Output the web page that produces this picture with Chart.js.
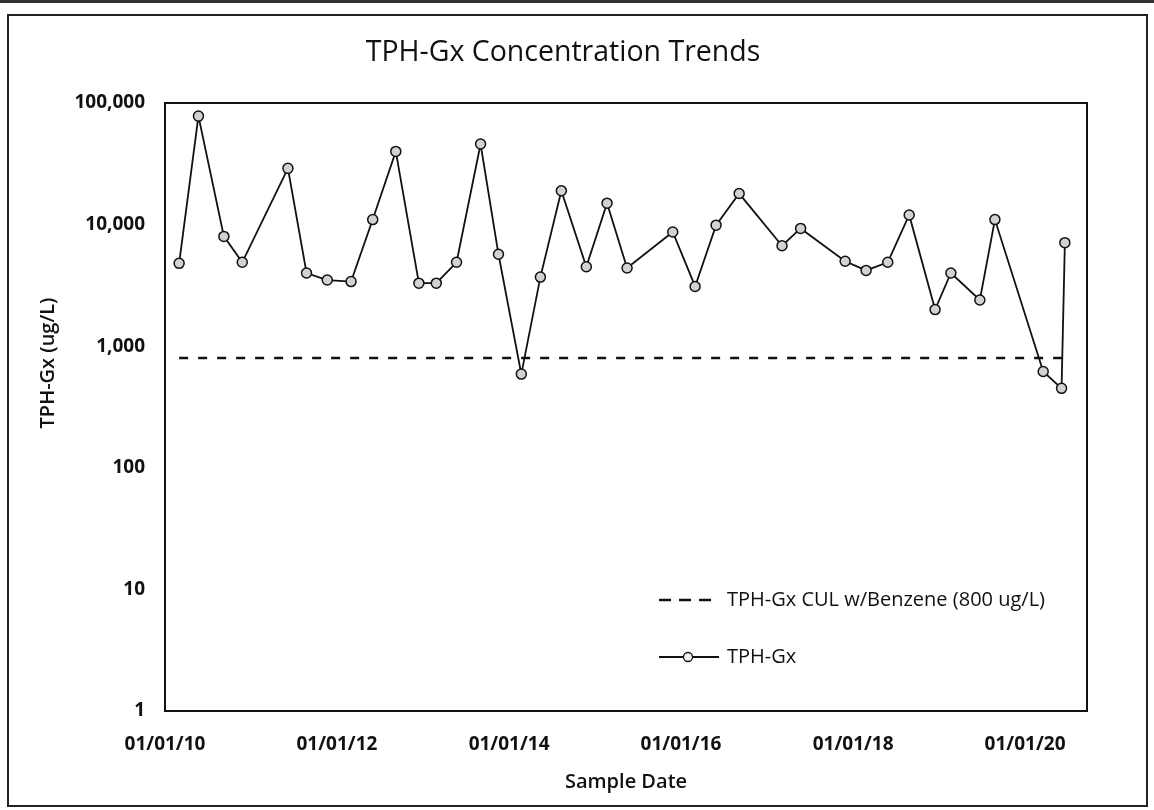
<!DOCTYPE html>
<html><head><meta charset="utf-8">
<script src="https://cdn.jsdelivr.net/npm/chart.js@4.4.1/dist/chart.umd.min.js"></script>
<style>
html,body{margin:0;padding:0;background:#fff;}
#wrap{position:relative;width:1154px;height:810px;overflow:hidden;background:#fff;}
canvas{position:absolute;left:0;top:0;}
#frame{position:absolute;left:7px;top:14px;width:1137px;height:789px;border:2px solid #222;pointer-events:none;}
#topline{position:absolute;left:0;top:0;width:1154px;height:3px;background:#333;}
</style></head>
<body><div id="wrap"><canvas id="c" width="1154" height="810"></canvas><div id="frame"></div><div id="topline"></div></div>
<script>
const chartTitle = 'TPH-Gx Concentration Trends';
const xAxisTitle = 'Sample Date';
const yAxisTitle = 'TPH-Gx (ug/L)';
const seriesLabel = 'TPH-Gx';
const culLabel = 'TPH-Gx CUL w/Benzene (800 ug/L)';
const culValue = 800;
const sampleDates = ['2010-03-02','2010-05-23','2010-09-08','2010-11-25','2011-06-07','2011-08-25','2011-11-21','2012-03-01','2012-06-01','2012-09-07','2012-12-14','2013-02-26','2013-05-23','2013-09-02','2013-11-17','2014-02-22','2014-05-14','2014-08-11','2014-11-25','2015-02-21','2015-05-17','2015-11-27','2016-03-01','2016-05-29','2016-09-04','2017-03-05','2017-05-23','2017-11-28','2018-02-25','2018-05-28','2018-08-27','2018-12-15','2019-02-20','2019-06-23','2019-08-26','2020-03-18','2020-06-04','2020-06-18'];
const tphGx = [4800,78000,8000,4900,29000,4000,3500,3400,11000,40000,3300,3300,4900,46000,5700,590,3700,19000,4500,15000,4400,8700,3100,9900,18000,6700,9300,5000,4200,4900,12000,2000,4000,2400,11000,620,450,7100];
const yTickValues = [1,10,100,1000,10000,100000];
const xTickYears = [2010,2012,2014,2016,2018,2020];
const xMinDate = '2010-01-01';
const xMaxDate = '2020-09-20';

const t = s => Date.parse(s + 'T00:00:00Z');
const FONT = "'Open Sans', 'Noto Sans', sans-serif";

const frameBox = {
  id: 'frameBox',
  afterDatasetsDraw(chart) {
    const a = chart.chartArea, ctx = chart.ctx;
    ctx.save();
    ctx.strokeStyle = '#111'; ctx.lineWidth = 2;
    ctx.strokeRect(a.left, a.top, a.right - a.left, a.bottom - a.top);
    ctx.restore();
  }
};

const yTitle = {
  id: 'yTitle',
  afterDraw(chart) {
    const a = chart.chartArea, ctx = chart.ctx;
    ctx.save();
    ctx.translate(a.left - 117, a.top + 260);
    ctx.rotate(-Math.PI / 2);
    ctx.font = "600 20px " + FONT;
    ctx.fillStyle = '#111';
    ctx.textAlign = 'center';
    ctx.textBaseline = 'middle';
    ctx.fillText(yAxisTitle, 0, 0);
    ctx.restore();
  }
};

const customLegend = {
  id: 'customLegend',
  afterDraw(chart) {
    const a = chart.chartArea, ctx = chart.ctx;
    const x0 = a.left + 494, y1 = a.top + 497, y2 = a.top + 554;
    const ds = chart.data.datasets;
    ctx.save();
    ctx.font = "20px " + FONT;
    ctx.fillStyle = '#111';
    ctx.textBaseline = 'middle';
    ctx.strokeStyle = ds[1].borderColor; ctx.lineWidth = 2.5;
    ctx.setLineDash([12, 8]);
    ctx.beginPath(); ctx.moveTo(x0, y1); ctx.lineTo(x0 + 53, y1); ctx.stroke();
    ctx.setLineDash([]);
    ctx.fillText(ds[1].label, x0 + 68, y1);
    ctx.strokeStyle = ds[0].borderColor; ctx.lineWidth = 1.8;
    ctx.beginPath(); ctx.moveTo(x0, y2); ctx.lineTo(x0 + 60, y2); ctx.stroke();
    ctx.beginPath(); ctx.arc(x0 + 29, y2, 4.5, 0, Math.PI * 2);
    ctx.fillStyle = '#f2f2f2'; ctx.fill(); ctx.lineWidth = 1.3; ctx.stroke();
    ctx.fillStyle = '#111';
    ctx.fillText(ds[0].label, x0 + 68, y2);
    ctx.restore();
  }
};

function build() {
  new Chart(document.getElementById('c'), {
    type: 'line',
    data: {
      datasets: [
        {
          label: seriesLabel,
          data: sampleDates.map((d, i) => ({x: t(d), y: tphGx[i]})),
          borderColor: '#111', borderWidth: 1.8, tension: 0,
          pointRadius: 5, pointBackgroundColor: '#d2d2d2', pointBorderColor: '#111', pointBorderWidth: 1.5,
          yAxisID: 'y', xAxisID: 'x'
        },
        {
          label: culLabel,
          data: [{x: t(sampleDates[0]), y: culValue}, {x: t(sampleDates[sampleDates.length - 1]), y: culValue}],
          borderColor: '#111', borderWidth: 2.5, borderDash: [9, 10], pointRadius: 0,
          yAxisID: 'y', xAxisID: 'x'
        }
      ]
    },
    options: {
      responsive: false, animation: false, devicePixelRatio: 1,
      layout: {padding: {left: 0, right: 28, top: 0, bottom: 0}},
      plugins: {
        legend: {display: false},
        tooltip: {enabled: false},
        title: {
          display: true, text: chartTitle, color: '#111',
          font: {family: FONT, size: 28.5, weight: 'normal', lineHeight: 1.2},
          padding: {top: 36, bottom: 32.8}
        }
      },
      scales: {
        x: {
          type: 'linear', position: 'bottom',
          min: t(xMinDate), max: t(xMaxDate),
          grid: {display: false, drawTicks: false},
          border: {display: false},
          afterBuildTicks: s => { s.ticks = xTickYears.map(y => ({value: Date.UTC(y, 0, 1)})); },
          afterFit: s => { s.height = 99; },
          ticks: {
            autoSkip: false, maxRotation: 0, padding: 22, color: '#111',
            font: {family: FONT, size: 19, weight: 'bold'},
            callback: v => { const d = new Date(v); const p = n => String(n).padStart(2, '0');
              return p(d.getUTCMonth() + 1) + '/' + p(d.getUTCDate()) + '/' + p(d.getUTCFullYear() % 100); }
          },
          title: {display: true, text: xAxisTitle, color: '#111',
            font: {family: FONT, size: 20, weight: '600'}, padding: {top: 0, bottom: 16}}
        },
        y: {
          type: 'logarithmic', position: 'left', min: 1, max: 100000,
          grid: {display: false, drawTicks: false},
          border: {display: false},
          afterBuildTicks: s => { s.ticks = yTickValues.map(v => ({value: v})); },
          afterFit: s => { s.width = 165; },
          ticks: {
            padding: 20, color: '#111',
            font: {family: FONT, size: 19, weight: 'bold'},
            callback: v => Number(v).toLocaleString('en-US')
          },
          title: {display: false}
        },
        y2: {
          type: 'linear', position: 'right', display: true,
          grid: {display: false, drawTicks: false}, border: {display: false},
          ticks: {display: false},
          afterFit: s => { s.width = 39; }
        }
      }
    },
    plugins: [frameBox, yTitle, customLegend]
  });
}
if (document.fonts && document.fonts.load) {
  Promise.all([document.fonts.load("20px 'Open Sans'"), document.fonts.load("bold 20px 'Open Sans'"), document.fonts.load("600 20px 'Open Sans'")]).then(build, build);
} else { build(); }
</script>
</body></html>
